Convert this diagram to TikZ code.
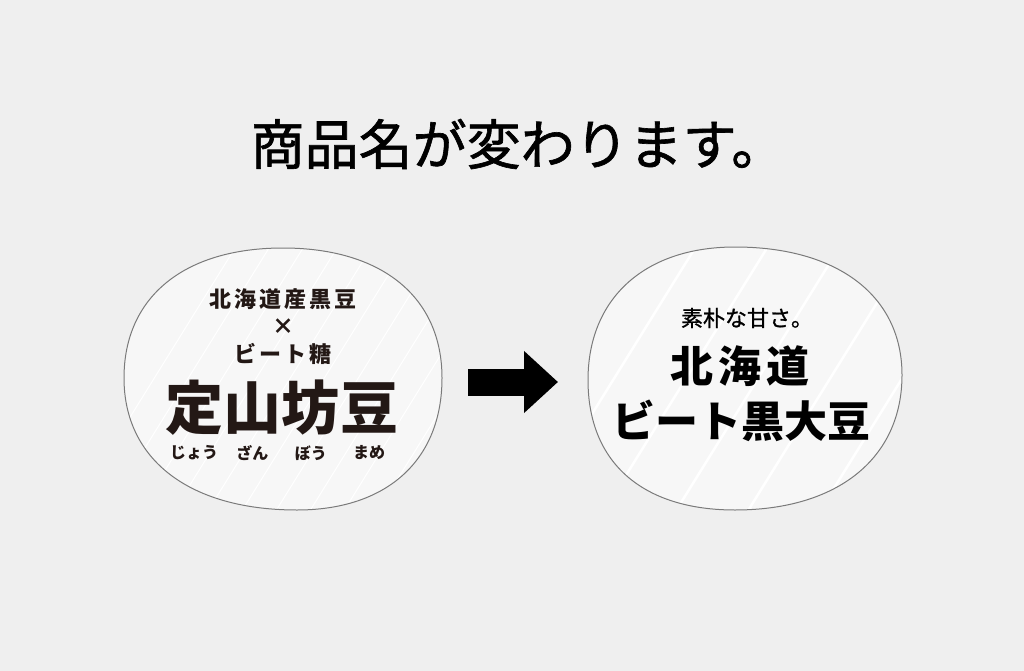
\documentclass[tikz,border=0pt]{standalone}
\usepackage{fontspec}
\newfontfamily\jp{Noto Sans CJK JP}
\usetikzlibrary{positioning,arrows.meta}
\definecolor{bggray}{HTML}{EFEFEF}
\definecolor{ovalfill}{HTML}{F7F7F7}
\definecolor{ovalline}{HTML}{7A7A7A}
\definecolor{ink}{HTML}{231815}

\begin{document}
\begin{tikzpicture}[x=1pt, y=-1pt,
        oval/.style={draw=ovalline, line width=1pt, fill=ovalfill},
        stripe/.style={draw=white, line width=#1},
        title/.style={font=\jp\fontsize{54}{60}\selectfont\addfontfeatures{FakeBold=1.2}, inner sep=0pt},
        lsmall/.style={font=\jp\bfseries\fontsize{22}{26}\selectfont\addfontfeatures{LetterSpace=14}, text=ink, inner sep=0pt},
        lbig/.style={font=\jp\bfseries\fontsize{58}{62}\selectfont, text=ink, inner sep=0pt},
        reading/.style={font=\jp\bfseries\fontsize{16}{18}\selectfont, text=ink, inner sep=0pt},
        rsmall/.style={font=\jp\fontsize{22}{26}\selectfont\addfontfeatures{FakeBold=1}, inner sep=0pt},
        rbig/.style={font=\jp\bfseries\fontsize{43}{48}\selectfont, inner sep=0pt}
    ]
    \fill[bggray] (0,0) rectangle (1024,671);

    % heading
    \node[title] (title) at (518,144) {商品名が変わります。};

    % old label
    \draw[oval, path picture={
            \foreach \s in {60,94,...,470}
                \draw[stripe=1pt] (\s,530) -- ++(180,-290);
        }]
        (283,248) .. controls (382,248) and (442,297) .. (442,378)
        .. controls (442,460) and (387,510) .. (297,510)
        .. controls (190,510) and (124,460) .. (124,378)
        .. controls (124,297) and (184,248) .. cycle;
    \node[lsmall] (origin) at (283,299) {北海道産黒豆};
    \node[lsmall] (cross) at (283,327) {×};
    \node[lsmall] (beet) at (283,354) {ビート糖};
    \node[lbig] (jo) at (194,408) {定};
    \node[lbig, right=0pt of jo] (zan) {山};
    \node[lbig, right=0pt of zan] (bo) {坊};
    \node[lbig, right=0pt of bo] (mame) {豆};
    \coordinate (rdline) at (0,453);
    \node[reading] (jo-r) at (jo |- rdline) {じょう};
    \node[reading] (zan-r) at (zan |- rdline) {ざん};
    \node[reading] (bo-r) at (bo |- rdline) {ぼう};
    \node[reading] (mame-r) at (mame |- rdline) {まめ};

    % arrow
    \coordinate (arrtail) at (468,382);
    \coordinate (arrtip) at (558,382);
    \draw[line width=27pt, -{Triangle[length=34pt, width=60pt]}] (arrtail) -- (arrtip);

    % new label
    \draw[oval, path picture={
            \foreach \s in {520,592,...,920}
                \draw[stripe=2.5pt] (\s,530) -- ++(180,-290);
        }]
        (735,247) .. controls (838,247) and (902,296) .. (902,375)
        .. controls (902,458) and (838,510) .. (735,510)
        .. controls (644,510) and (588,464) .. (588,380)
        .. controls (588,299) and (644,247) .. cycle;
    \node[rsmall] (plain) at (747,318) {素朴な甘さ。};
    \node[rbig] (hok) at (740,366) {北\hspace{5pt}海\hspace{5pt}道};
    \node[rbig] (beetbean) at (741,421) {ビート黒大豆};
\end{tikzpicture}
\end{document}
